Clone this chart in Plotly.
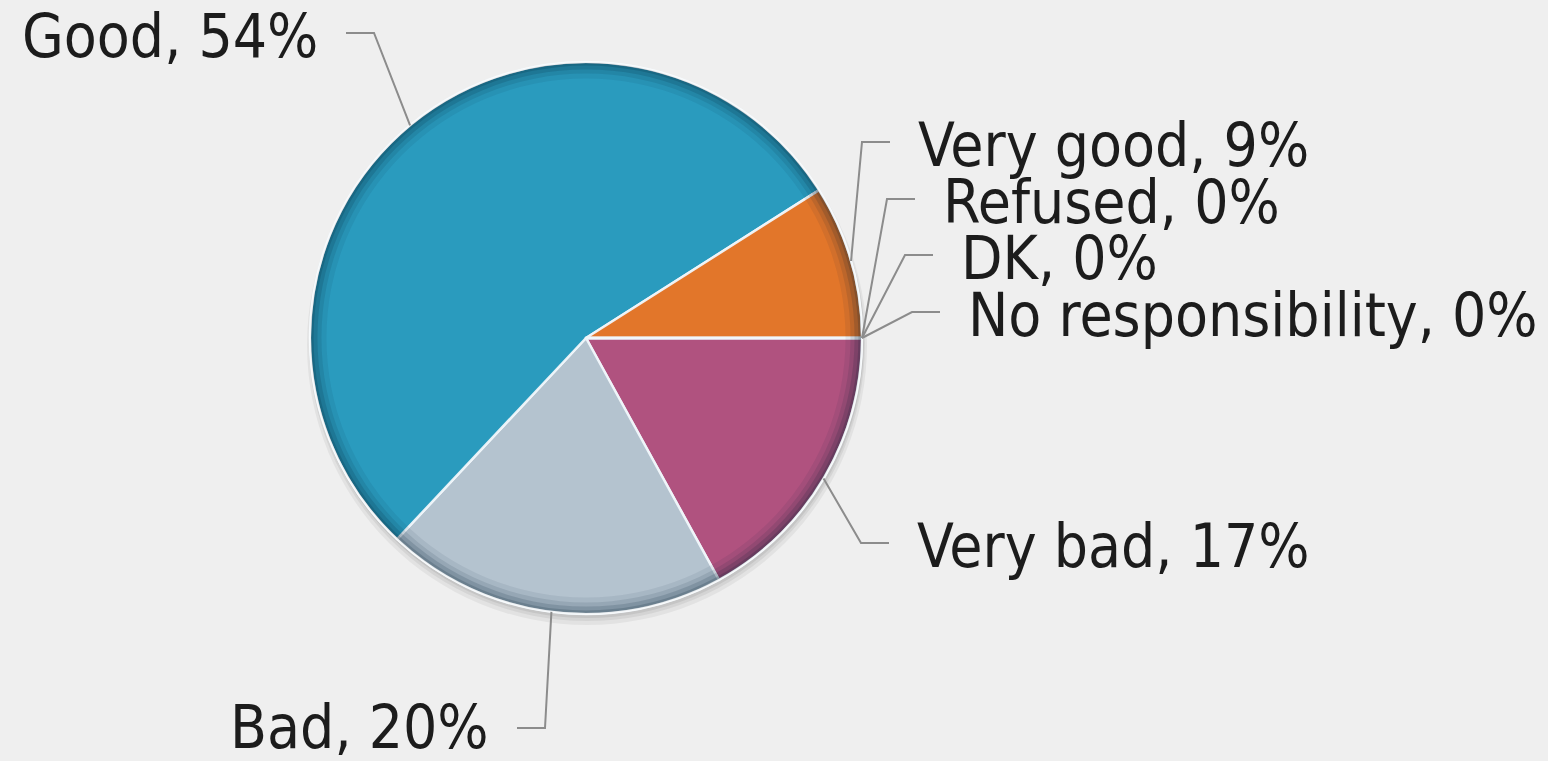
import math
import plotly.graph_objects as go

# Survey answers, in drawing order (clockwise from 3 o'clock)
categories = ["Very bad", "Bad", "Good", "Very good", "Refused", "DK", "No responsibility"]
shares = [17, 20, 54, 9, 0, 0, 0]
colors = ["#b0527f", "#b4c3cf", "#2a9bbe", "#e2762a", "#9a9a9a", "#9a9a9a", "#9a9a9a"]

W, H = 1548, 761
BG = "#efefef"
CX, CY, R = 586, 338, 276  # pie centre and radius in pixels

# Where each callout bends, which side its text sits on, and a small vertical nudge
callouts = {
    "Good": dict(elbow=(374, 33), side="left", dy=3),
    "Very good": dict(elbow=(862, 142), side="right", dy=3),
    "Refused": dict(elbow=(887, 199), side="right", dy=3),
    "DK": dict(elbow=(905, 255), side="right", dy=3),
    "No responsibility": dict(elbow=(912, 312), side="right", dy=3),
    "Very bad": dict(elbow=(861, 543), side="right", dy=3),
    "Bad": dict(elbow=(545, 728), side="left", dy=-1),
}


def px(x):
    return x / W


def py(y):
    return 1 - y / H


def domain_for(cx, cy, r):
    return dict(x=[px(cx - r), px(cx + r)], y=[py(cy + r), py(cy - r)])


fig = go.Figure()

# soft drop shadow under the pie
for off, grow, a in [(7, 4, 0.05), (5, 2, 0.06), (3, 1, 0.07)]:
    fig.add_trace(go.Pie(
        values=[1], labels=["shadow"], domain=domain_for(CX + 1, CY + off, R + grow),
        marker=dict(colors=[f"rgba(0,0,0,{a})"], line=dict(width=0)),
        textinfo="none", hoverinfo="skip", showlegend=False, sort=False,
    ))

fig.add_trace(go.Pie(
    labels=categories, values=shares, sort=False, direction="clockwise", rotation=90,
    domain=domain_for(CX, CY, R),
    marker=dict(colors=colors, line=dict(color="rgba(240,246,250,0.95)", width=2.5)),
    textinfo="none", showlegend=False,
))

# darker rim towards the outer edge
for hole, a in [(0.94, 0.07), (0.958, 0.1), (0.973, 0.14), (0.987, 0.17)]:
    fig.add_trace(go.Pie(
        values=[1], labels=["rim"], hole=hole, domain=domain_for(CX, CY, R),
        marker=dict(colors=[f"rgba(0,30,50,{a})"], line=dict(width=0)),
        textinfo="none", hoverinfo="skip", showlegend=False, sort=False,
    ))

shapes = [dict(type="circle", xref="paper", yref="paper",
               x0=px(CX - R), x1=px(CX + R), y0=py(CY + R), y1=py(CY - R),
               line=dict(color="rgba(250,252,253,0.9)", width=2))]
annotations = []

total = sum(shares)
cum = 0
for cat, v in zip(categories, shares):
    theta = math.radians(360 * (cum + v / 2) / total)
    cum += v
    sx, sy = CX + R * math.cos(theta), CY + R * math.sin(theta)
    c = callouts[cat]
    ex, ey = c["elbow"]
    sign = -1 if c["side"] == "left" else 1
    hx = ex + sign * 28
    tx = hx + sign * 26
    shapes.append(dict(
        type="path", xref="paper", yref="paper",
        path=f"M {px(sx)},{py(sy)} L {px(ex)},{py(ey)} L {px(hx)},{py(ey)}",
        line=dict(color="#8c8c8c", width=2),
    ))
    annotations.append(dict(
        x=px(tx), y=py(ey + c["dy"]), xref="paper", yref="paper", showarrow=False,
        text=f"{cat}, {v}%", xanchor="right" if sign < 0 else "left", yanchor="middle",
        font=dict(family="DejaVu Sans Condensed, DejaVu Sans", size=60, color="#1c1c1c"),
    ))

fig.update_layout(
    width=W, height=H, margin=dict(l=0, r=0, t=0, b=0),
    paper_bgcolor=BG, plot_bgcolor=BG, showlegend=False,
    shapes=shapes, annotations=annotations,
)

fig.write_html("out.html", config={"displayModeBar": False})
